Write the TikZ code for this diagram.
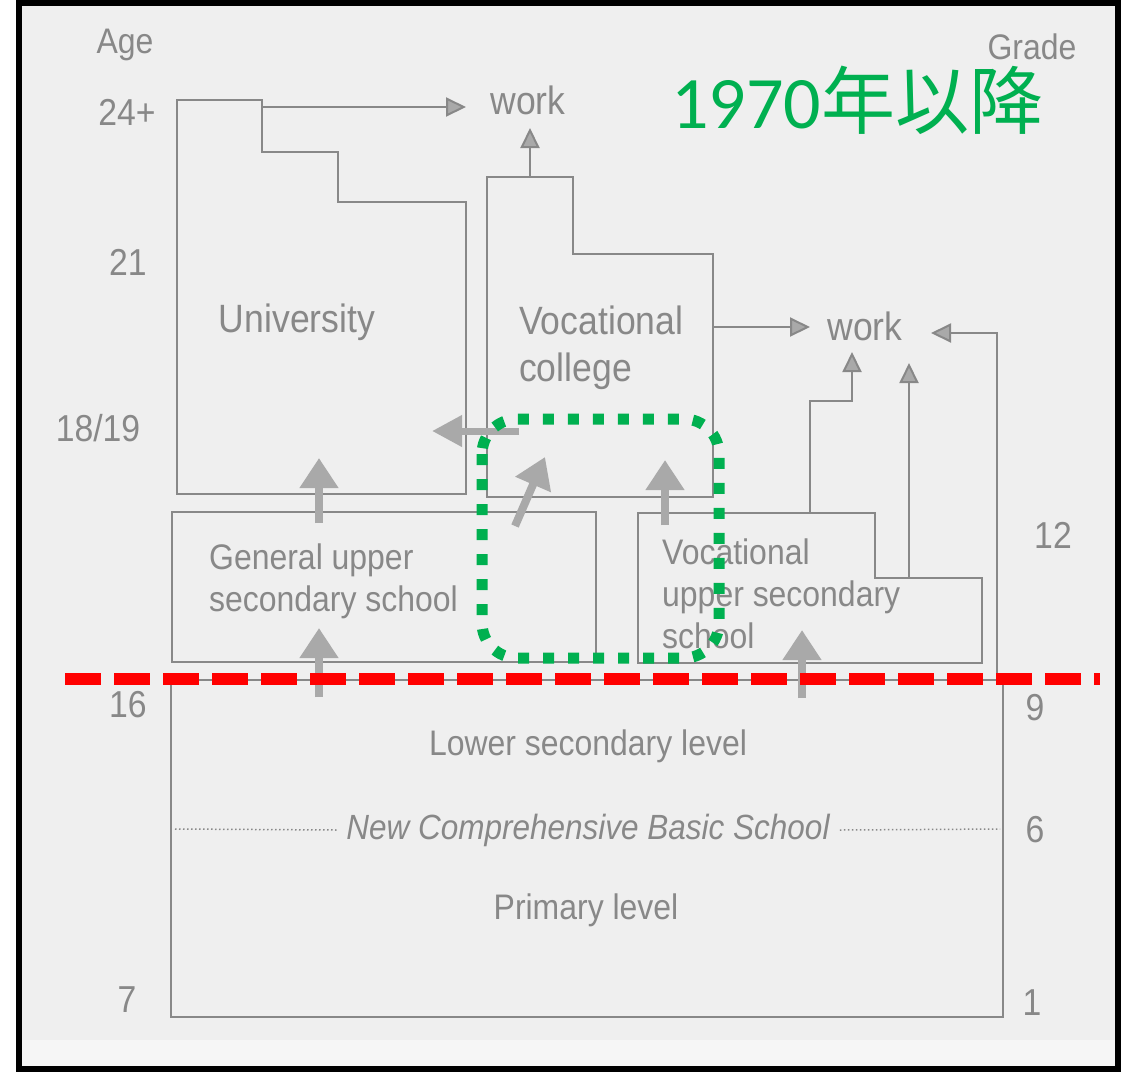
\documentclass[tikz,border=0pt]{standalone}
\usepackage{fontspec}
\setmainfont{Liberation Sans}[FakeStretch=0.9]
\newfontfamily\titlefont{Carlito}
\newfontfamily\cjkfont{Noto Sans CJK JP}
\usetikzlibrary{arrows.meta}
\definecolor{paper}{HTML}{EFEFEF}
\definecolor{paperlow}{HTML}{F6F6F6}
\definecolor{ink}{HTML}{888888}
\definecolor{fatgray}{HTML}{A9A9A9}
\definecolor{markgreen}{HTML}{00B050}
\definecolor{markred}{HTML}{FF0000}
\tikzstyle{box}=[draw=ink, line width=2pt]
\tikzstyle{label}=[text=ink, inner sep=0pt, font=\fontsize{35.5}{42}\selectfont]
\tikzstyle{biglabel}=[text=ink, inner sep=0pt, font=\fontsize{39.5}{47}\selectfont]
\tikzstyle{agenum}=[text=ink, inner sep=0pt, font=\fontsize{37.5}{40}\selectfont]
\tikzstyle{thinarrow}=[draw=ink, line width=2pt, -{Triangle[length=20pt,width=19pt,fill=fatgray]}]
\tikzstyle{fatarrow}=[draw=fatgray, line width=8pt, -{Triangle[length=30pt,width=37pt]}]

\begin{document}
\begin{tikzpicture}[x=1pt,y=-1pt]
\useasboundingbox (0,0) rectangle (1129,1072);
% paper and frame
\fill[white] (0,0) rectangle (1129,1072);
\fill[paper] (19,3) rectangle (1118,1069);
\fill[paperlow] (19,1040) rectangle (1118,1069);

% boxes
\draw[box] (177,100) -- (262,100) -- (262,152) -- (338,152) -- (338,202) -- (466,202) -- (466,494) -- (177,494) -- cycle;
\draw[box] (487,177) -- (573,177) -- (573,254) -- (713,254) -- (713,497) -- (487,497) -- cycle;
\draw[box] (172,512) rectangle (596,662);
\draw[box] (638,513) -- (875,513) -- (875,578) -- (982,578) -- (982,663) -- (638,663) -- cycle;
\draw[box] (171,680) rectangle (1003,1017);

% axis labels
\node[label] (age) at (125,45) {Age};
\node[label] (grade) at (1032,47) {Grade};
\node[agenum] (a24) at (127,112) {24+};
\node[agenum] (a21) at (128,262) {21};
\node[agenum] (a18) at (98,428) {18/19};
\node[agenum] (a16) at (128,705) {16};
\node[agenum] (a7) at (127,1000) {7};
\node[agenum] (g12) at (1053,535) {12};
\node[agenum] (g9) at (1035,708) {9};
\node[agenum] (g6) at (1035,830) {6};
\node[agenum] (g1) at (1032,1003) {1};

% box texts
\node[biglabel] (univ) at (297,322) {University};
\node[biglabel, anchor=west, align=left] (vcoll) at (519,348) {Vocational\\college};
\node[label, anchor=west, align=left] (gus) at (209,581) {General upper\\secondary school};
\node[label, anchor=west, align=left] (vus) at (662,594) {Vocational\\upper secondary\\school};
\node[biglabel] (work1) at (528,100) {work};
\node[biglabel] (work2) at (865,326) {work};
\node[label] (lower) at (588,746) {Lower secondary level};
\node[label, font=\fontsize{35}{40}\selectfont\itshape] (basic) at (588,830) {New Comprehensive Basic School};
\node[label] (prim) at (586,910) {Primary level};
\draw[ink, line width=1.5pt, dash pattern=on 1.5pt off 2.5pt] (175,829) -- ([xshift=-8pt]basic.west);
\draw[ink, line width=1.5pt, dash pattern=on 1.5pt off 2.5pt] ([xshift=10pt]basic.east) -- (1000,829);

% thin arrows to work
\coordinate (ustep) at (262,107);
\coordinate (utip) at (466,107);
\coordinate (vtop) at (530,177);
\coordinate (vtip) at (530,128);
\coordinate (vright) at (713,327);
\coordinate (vrtip) at (810,327);
\draw[thinarrow] (ustep) -- (utip);
\draw[thinarrow] (vtop) -- (vtip);
\draw[thinarrow] (vright) -- (vrtip);
\draw[thinarrow] (810,513) -- (810,401) -- (852,401) -- (852,352);
\draw[thinarrow] (909,578) -- (909,363);
\draw[thinarrow] (997,680) -- (997,333) -- (931,333);

% fat arrows
\draw[fatarrow] (319,523) -- (319,458);
\draw[fatarrow] (319,697) -- (319,628);
\draw[fatarrow] (515,526) -- (545,457);
\draw[fatarrow] (665,525) -- (665,460);
\draw[fatarrow] (802,698) -- (802,630);
\draw[draw=fatgray, line width=7pt, -{Triangle[length=30pt,width=30pt]}] (519,431) -- (432,431);

% title
\node[text=markgreen, inner sep=0pt, anchor=west] (title) at (671,100)
  {\fontsize{74}{74}\selectfont\titlefont 1970\cjkfont 年以降};

% marks
\draw[markgreen, line width=11pt, dash pattern=on 11pt off 14pt, rounded corners=35pt] (482,419) rectangle (719,658);
\draw[markred, line width=12pt, dash pattern=on 36pt off 13pt] (65,679) -- (1100,679);

% frame
\draw[black, line width=6pt] (19,3) rectangle (1118,1069);
\end{tikzpicture}
\end{document}
